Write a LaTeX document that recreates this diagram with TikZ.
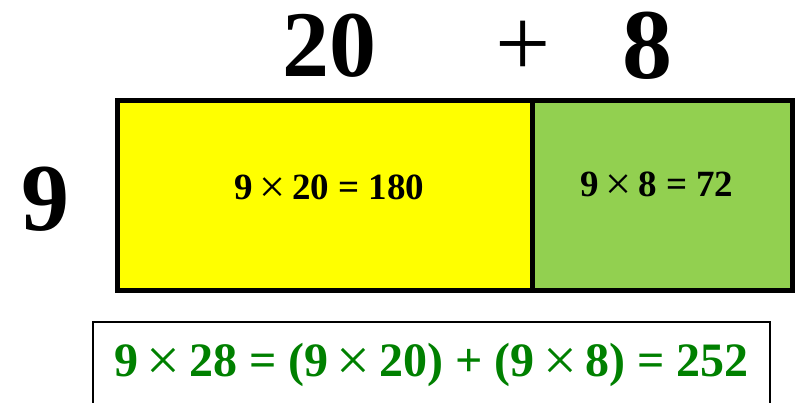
\documentclass[tikz,border=0pt]{standalone}
\usepackage{fontspec}
\setmainfont{Liberation Serif}
\definecolor{cellyellow}{RGB}{255,255,0}
\definecolor{cellgreen}{RGB}{146,208,80}
\definecolor{eqgreen}{RGB}{0,128,0}
\newcommand{\tms}{\hspace{0.18em}\makebox[0.7em][c]{\raisebox{-0.07em}{\scalebox{1.25}{\mdseries ×}}}\hspace{0.18em}}
\begin{document}
\begin{tikzpicture}[x=1pt,y=-1pt,
  cell/.style={draw=black,line width=5pt,inner sep=0pt,outer sep=0pt},
  bignum/.style={inner sep=0pt,anchor=base,font=\fontsize{94}{94}\selectfont\bfseries},
  celltext/.style={inner sep=0pt,anchor=base,font=\fontsize{37}{37}\selectfont\bfseries},
  eqtext/.style={inner sep=0pt,anchor=base,text=eqgreen,font=\fontsize{48}{48}\selectfont\bfseries}]
\useasboundingbox (0,0) rectangle (798,403);
\clip (0,0) rectangle (798,403);
\node[cell,fill=cellyellow,minimum width=414.5pt,minimum height=190pt] (yel) at (324.75,195.3) {};
\node[cell,fill=cellgreen,minimum width=260.5pt,minimum height=190pt] (grn) at (662.25,195.3) {};
\node[draw=black,line width=2pt,inner sep=0pt,minimum width=677pt,minimum height=88pt] (eqbox) at (431.5,365.7) {};
\node[bignum] (twenty) at (329,76.5) {20};
\node[inner sep=0pt,anchor=base,font=\fontsize{98}{98}\selectfont] (plus) at (523.5,77) {+};
\node[bignum,font=\fontsize{100}{100}\selectfont\bfseries] (eight) at (647,78.5) {8};
\node[bignum,font=\fontsize{96}{96}\selectfont\bfseries] (nine) at (45,231) {9};
\node[celltext] (ya) at (329.5,200) {9\tms20 = 180};
\node[celltext] (ga) at (657,196.5) {9\tms8 = 72};
\node[eqtext] (eq) at (431.5,377) {9\tms28 = (9\tms20) + (9\tms8) = 252};
\end{tikzpicture}
\end{document}
